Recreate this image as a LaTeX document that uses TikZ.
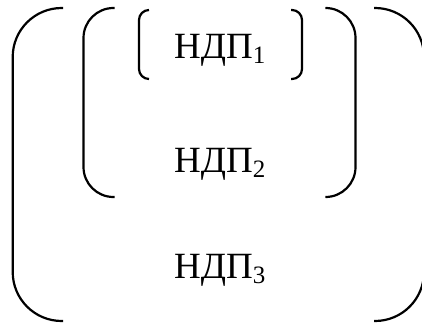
\documentclass[tikz,border=0pt]{standalone}
\usepackage{fontspec}
\setmainfont{Liberation Serif}
\newcommand{\ndpidx}[1]{\raisebox{-5pt}{\fontsize{25}{25}\selectfont #1}}

\begin{document}
\begin{tikzpicture}[x=1pt,y=-1pt,
  brack/.style={line width=2.2pt},
  lbl/.style={anchor=base west,inner sep=0pt,font=\fontsize{37}{40}\selectfont}]
\useasboundingbox (0,0) rectangle (422,324);
% Outer brackets
\draw[brack,rounded corners=49pt] (63,8) -| (12.7,321) -- (63,321);
\draw[brack,rounded corners=49pt] (374,8) -| (424,321) -- (374,321);
% Middle brackets
\draw[brack,rounded corners=30pt] (114.5,8) -| (83.5,197) -- (114.5,197);
\draw[brack,rounded corners=30pt] (326,8) -| (355.5,197) -- (326,197);
% Inner brackets
\draw[brack,rounded corners=10pt] (149,10) -| (139,79) -- (149,79);
\draw[brack,rounded corners=10pt] (291,10) -| (302,79) -- (291,79);
% Labels
\node[lbl] (ndp1) at (174,58) {НДП\ndpidx{1}};
\node[lbl] (ndp2) at (174,172) {НДП\ndpidx{2}};
\node[lbl] (ndp3) at (174,278) {НДП\ndpidx{3}};
\end{tikzpicture}
\end{document}
